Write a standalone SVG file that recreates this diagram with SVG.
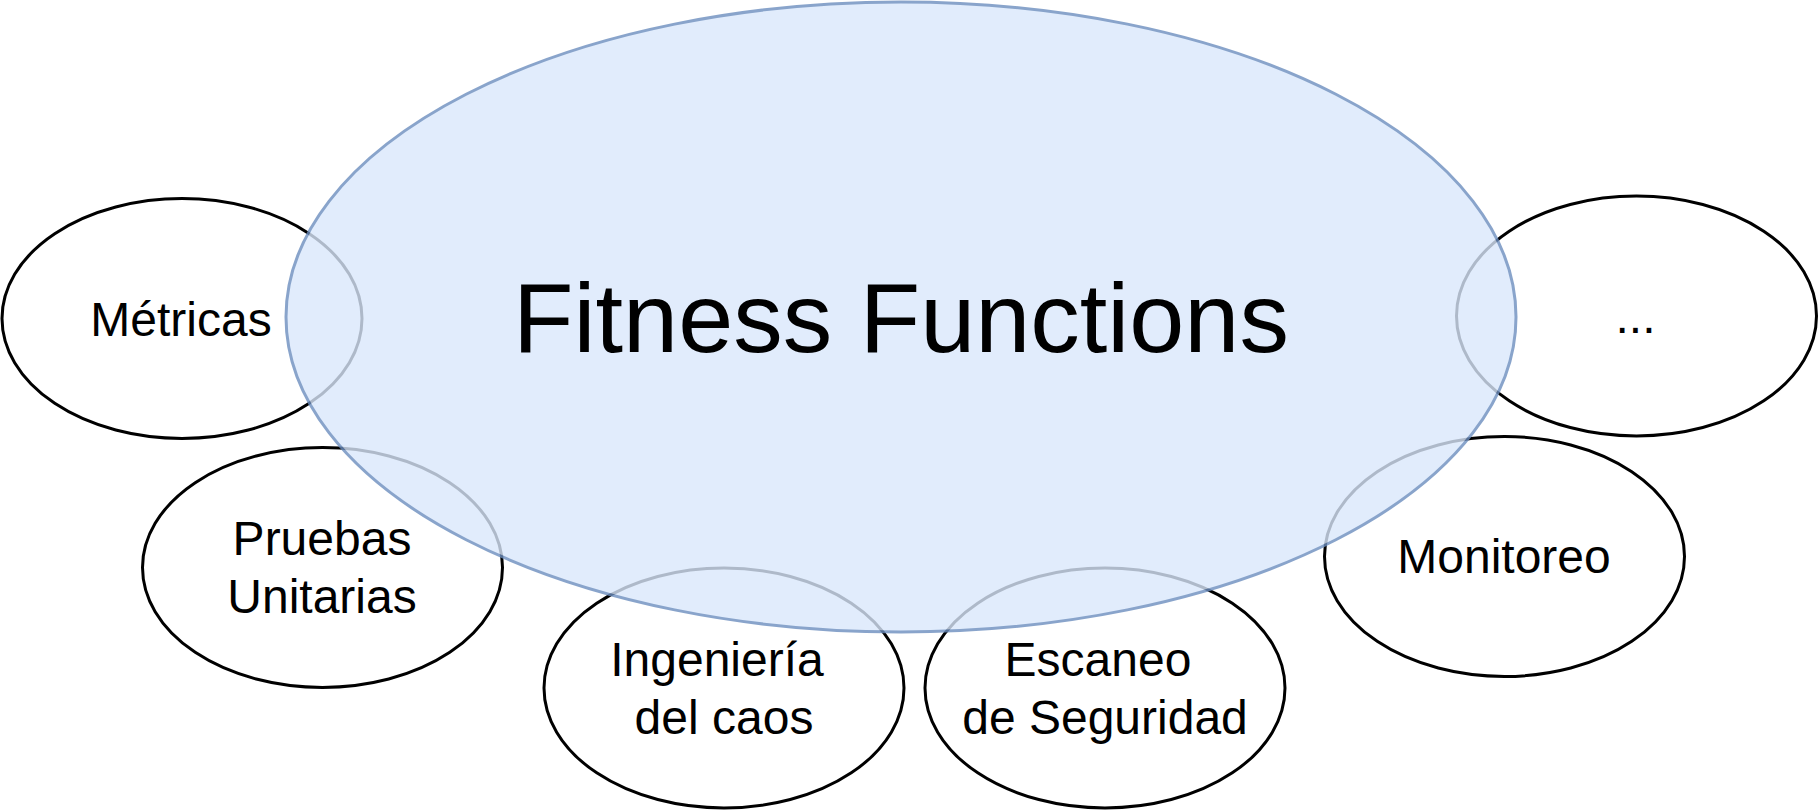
<svg xmlns="http://www.w3.org/2000/svg" width="1818" height="810" viewBox="0 0 1818 810">
<style>
.n{fill:#ffffff;stroke:#000000;stroke-width:3}
.t{font-family:"Liberation Sans",Arial,sans-serif;font-size:48px;fill:#000000;text-anchor:middle}
.big{fill:#dae8fc;stroke:#6c8ebf;stroke-width:3}
.bt{font-family:"Liberation Sans",Arial,sans-serif;font-size:99px;fill:#000000;text-anchor:middle}
</style>
<rect width="1818" height="810" fill="#ffffff"/>
<g id="connectors"></g>
<g id="metricas"><ellipse class="n" cx="182" cy="318.5" rx="180" ry="120"/><text class="t" x="181" y="336">Métricas</text></g>
<g id="etc"><ellipse class="n" cx="1636.5" cy="316" rx="180" ry="120"/><text class="t" x="1635.5" y="333">...</text></g>
<g id="pruebas"><ellipse class="n" cx="322.5" cy="567.5" rx="180" ry="120"/><text class="t" x="322" y="555">Pruebas</text><text class="t" x="322" y="613">Unitarias</text></g>
<g id="monitoreo"><ellipse class="n" cx="1504.5" cy="556.5" rx="180" ry="120"/><text class="t" x="1504" y="573">Monitoreo</text></g>
<g id="ingenieria"><ellipse class="n" cx="724" cy="688" rx="180" ry="120"/><text class="t" x="717" y="675.5">Ingeniería</text><text class="t" x="724" y="733.5">del caos</text></g>
<g id="escaneo"><ellipse class="n" cx="1105" cy="688" rx="180" ry="120"/><text class="t" x="1098" y="675.5">Escaneo</text><text class="t" x="1105" y="733.5">de Seguridad</text></g>
<g id="fitness"><ellipse class="big" cx="901" cy="317" rx="615" ry="315" opacity="0.8"/><text class="bt" x="901" y="352">Fitness Functions</text></g>
</svg>
